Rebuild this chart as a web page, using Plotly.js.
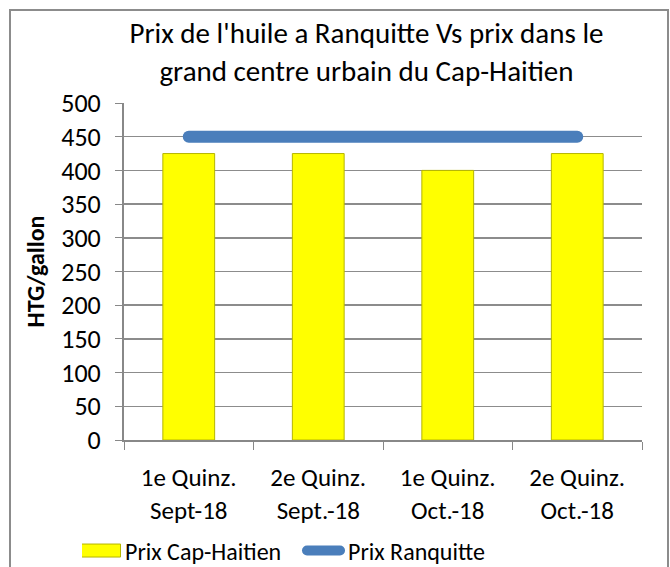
<!DOCTYPE html>
<html><head><meta charset="utf-8">
<script src="https://cdn.plot.ly/plotly-3.0.1.min.js"></script>
<style>
html,body{margin:0;padding:0;background:#fff;}
#wrap{position:relative;width:670px;height:567px;overflow:hidden;}
#chart{position:absolute;left:0;top:0;width:670px;height:567px;}
#frame{position:absolute;left:9px;top:9px;width:656px;height:600px;border:2px solid #8c8c8c;pointer-events:none;}
.scatterlayer path.js-line{stroke-linecap:round;}
.legend .legendlines path{stroke-linecap:round;}
</style>
</head><body>
<div id="wrap"><div id="chart"></div><div id="frame"></div></div>
<script>
const categories = ["1e Quinz.<br>Sept-18", "2e Quinz.<br>Sept.-18", "1e Quinz.<br>Oct.-18", "2e Quinz.<br>Oct.-18"];
const capHaitien = [425, 425, 400, 425];
const ranquitte = [450, 450, 450, 450];
const yTicks = [0, 50, 100, 150, 200, 250, 300, 350, 400, 450, 500];

const font = "Calibri, Carlito, 'Open Sans', 'Noto Sans', sans-serif";

const traces = [
  {type:"bar", x:categories, y:capHaitien, name:"Prix Cap-Haitien", width:0.4,
   marker:{color:"#FFFF00", line:{color:"#B5B500", width:1}}},
  {type:"scatter", mode:"lines", x:categories, y:ranquitte, name:"Prix Ranquitte",
   line:{color:"#4A7EBB", width:12}}
];

const layout = {
  width:670, height:567,
  margin:{l:124, r:28, t:103, b:127, autoexpand:false},
  paper_bgcolor:"#fff", plot_bgcolor:"#fff",
  font:{family:font, size:25, color:"#000"},
  title:{text:"Prix de l'huile a Ranquitte Vs prix dans le<br>grand centre urbain du Cap-Haitien",
         x:0.547, xanchor:"center", yref:"container", y:0.924, yanchor:"top", font:{size:29, family:font}},
  showlegend:true,
  legend:{orientation:"h", xref:"container", x:0.1224, xanchor:"left", yref:"container", y:0.068, yanchor:"top",
          font:{size:24}, itemwidth:33, entrywidth:175, tracegroupgap:0},
  xaxis:{type:"category", tickvals:categories, ticktext:categories, tickson:"boundaries", ticks:"outside", ticklen:8, tickcolor:"#888",
         showline:true, linecolor:"#888", linewidth:2, showgrid:false, tickfont:{size:25}, ticklabelstandoff:14, fixedrange:true},
  yaxis:{range:[0,500], tickvals:yTicks, ticks:"outside", ticklen:7, tickcolor:"#888",
         showline:true, linecolor:"#888", linewidth:2, gridcolor:"#8c8c8c", gridwidth:1.5, zeroline:false,
         tickfont:{size:26}, ticklabelstandoff:9,
         title:{text:"<b>HTG/gallon</b>", font:{size:24}, standoff:10}}
};

function tweakLegend(){
  const items = document.querySelectorAll('#chart .legend .traces');
  if (items.length > 0) {
    const p = items[0].querySelector('.legendpoints path');
    if (p) p.setAttribute('d', 'M17,6.5H-23V-6.5H17Z');
  }
  if (items.length > 1) {
    const l = items[1].querySelector('.legendlines path');
    if (l) l.setAttribute('d', 'M2,0h33');
  }
}
Plotly.newPlot("chart", traces, layout, {staticPlot:true}).then(tweakLegend);
</script>
</body></html>
